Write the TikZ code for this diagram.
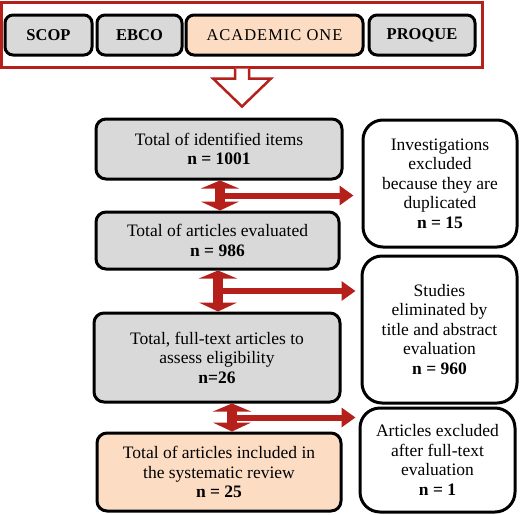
\documentclass[tikz,border=0pt]{standalone}
\usepackage{fontspec}
\setmainfont{Liberation Serif}
\usetikzlibrary{arrows.meta}
\definecolor{frred}{HTML}{B5201A}
\definecolor{boxgray}{HTML}{D9D9D9}
\definecolor{boxpeach}{HTML}{FCDDC4}
\begin{document}
\begin{tikzpicture}[x=1pt,y=-1pt,
  txt/.style={font=\fontsize{17.5}{19.5}\selectfont,align=center,inner sep=0pt},
  dbbox/.style={txt,draw,line width=3pt,rounded corners=8pt,fill=boxgray,minimum height=40pt,font=\fontsize{16.5}{19}\selectfont\bfseries},
  stepbox/.style={txt,draw,line width=3pt,rounded corners=10pt,fill=boxgray},
  exclbox/.style={txt,draw,line width=3pt,rounded corners=20pt,fill=white},
  dbl/.style={frred,line width=10pt,{Triangle[width=38pt,length=8pt]}-{Triangle[width=38pt,length=9pt]}},
  side/.style={frred,line width=6pt,-{Triangle[width=19pt,length=14pt]},shorten >=5pt},
  hollow/.style={frred,line width=2.5pt,fill=white,line join=miter}]
\useasboundingbox (0,0) rectangle (521,514);

%% databases
\node[draw=frred,line width=3pt,minimum width=481pt,minimum height=65pt,inner sep=0pt] (frame) at (242,34.5) {};
\node[dbbox,minimum width=87pt] (scop) at (48.5,35) {SCOP};
\node[dbbox,minimum width=85pt] (ebco) at (139.5,35) {EBCO};
\node[dbbox,minimum width=177pt,fill=boxpeach,font=\fontsize{16.5}{19}\selectfont\addfontfeatures{LetterSpace=6}] (acad) at (274.5,35) {ACADEMIC ONE};
\node[dbbox,minimum width=106pt] (proq) at (422,35) {PROQUE};

\draw[hollow] ([xshift=-7pt]frame.south) -- ++(0,10) -- ++(-22,0) -- ++(29,28) -- ++(29,-28) -- ++(-22,0) -- ++(0,-10);

%% main column
\node[stepbox,minimum width=246pt,minimum height=60pt] (ident) at (219,149) {Total of identified items\\\textbf{n = 1001}};
\node[stepbox,minimum width=243pt,minimum height=57pt] (evald) at (217.5,240.5) {Total of articles evaluated\\\textbf{n = 986}};
\node[stepbox,minimum width=246pt,minimum height=89pt] (fullt) at (217,357.5) {Total, full-text articles to\\assess eligibility\\\textbf{n=26}};
\node[stepbox,minimum width=244pt,minimum height=78pt,fill=boxpeach] (incl) at (219,472) {Total of articles included in\\the systematic review\\\textbf{n = 25}};

%% exclusions
\node[exclbox,minimum width=154pt,minimum height=127pt] (excla) at (440,183.5) {Investigations\\excluded\\because they are\\duplicated\\\textbf{n = 15}};
\node[exclbox,minimum width=155pt,minimum height=147pt] (exclb) at (439.5,329.5) {Studies\\eliminated by\\title and abstract\\evaluation\\\textbf{n = 960}};
\node[exclbox,minimum width=155pt,minimum height=104pt] (exclc) at (437.5,460) {Articles excluded\\after full-text\\evaluation\\\textbf{n = 1}};

\draw[dbl] ([xshift=1pt]ident.south) -- node[coordinate,midway] (ja) {} ([xshift=2.5pt]evald.north);
\draw[dbl] ([xshift=0.5pt]evald.south) -- node[coordinate,midway] (jb) {} ([xshift=1pt]fullt.north);
\draw[dbl] ([xshift=15pt]fullt.south) -- node[coordinate,midway] (jc) {} ([xshift=13pt]incl.north);
\draw[side,shorten >=8pt] (ja) -- (ja -| excla.west);
\draw[side] (jb) -- (jb -| exclb.west);
\draw[side,shorten >=3pt] (jc) -- (jc -| exclc.west);
\end{tikzpicture}
\end{document}
